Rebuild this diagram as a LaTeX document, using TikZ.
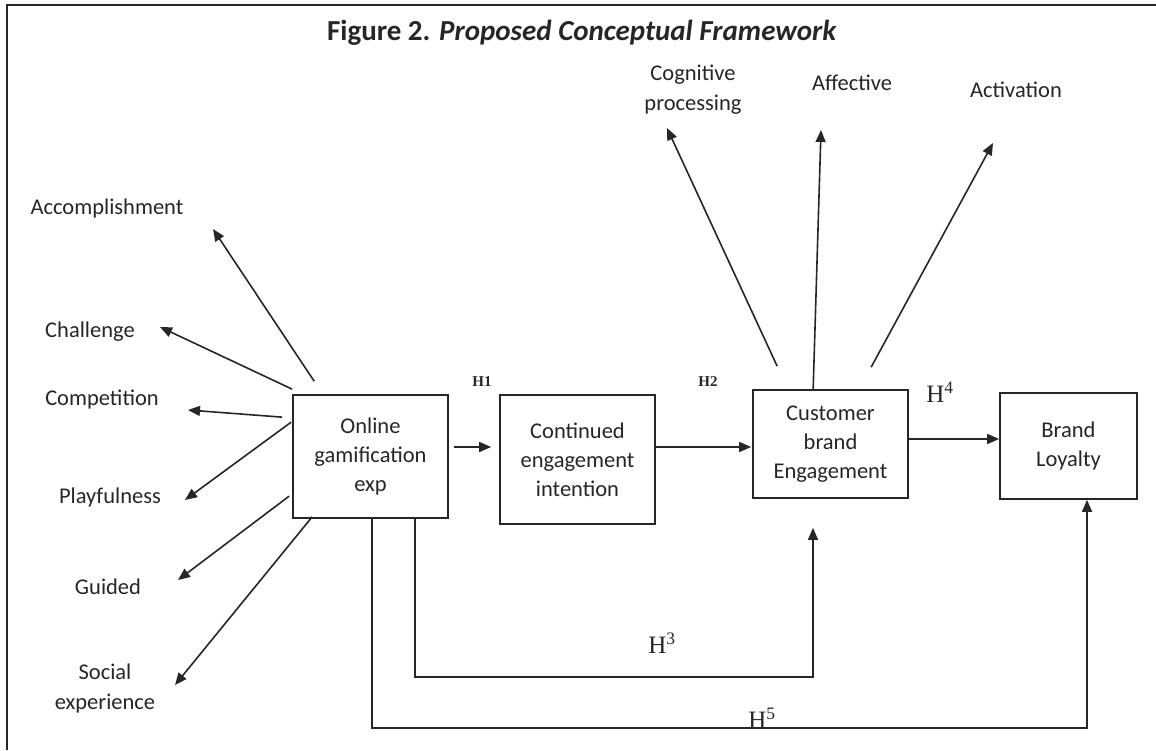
\documentclass[tikz,border=0pt]{standalone}
\usepackage{fontspec}
\setmainfont{Carlito}
\newfontfamily\hypfont{Liberation Serif}
\usetikzlibrary{arrows.meta}

\tikzset{
  box/.style={draw, line width=1.7pt, minimum width=155pt, align=center, font=\fontsize{22.5}{29}\selectfont},
  dim/.style={align=center, font=\fontsize{22.5}{30}\selectfont},
  hyp/.style={font=\hypfont\fontsize{25}{25}\selectfont},
  hypb/.style={font=\hypfont\bfseries\fontsize{15}{15}\selectfont},
  link/.style={-{Triangle[length=12pt,width=10pt]}, line width=1.6pt}
}

\begin{document}
\begin{tikzpicture}[x=1pt, y=-1pt, color=black!85]
        \useasboundingbox (0,0) rectangle (1156,750);
        % Rahmen
        \draw[line width=1.8pt] (7,750) -- (7,5) -- (1156,5);
        \node[font=\bfseries\fontsize{29}{29}\selectfont] (title) at (582,33) {Figure 2. \textit{Proposed Conceptual Framework}};

        % Konstrukte
        \node[box, minimum height=123pt] (og) at (370.5,456.5) {Online\\gamification\\exp};
        \node[box, minimum height=129pt] (ce) at (577.5,459.5) {Continued\\engagement\\intention};
        \node[box, minimum height=108pt] (cbe) at (830.5,444) {Customer\\brand\\Engagement};
        \node[box, minimum width=137pt, minimum height=106pt] (bl) at (1068.5,446) {Brand\\Loyalty};

        % Dimensionen der Gamification
        \node[dim] (acc) at (107,208) {Accomplishment};
        \node[dim] (chal) at (90,332) {Challenge};
        \node[dim] (comp) at (102,400) {Competition};
        \node[dim] (play) at (110,497) {Playfulness};
        \node[dim] (guid) at (108,587) {Guided};
        \node[dim] (soc) at (105,688) {Social\\experience};

        % Dimensionen des Engagements
        \node[dim] (cog) at (693,90) {Cognitive\\processing};
        \node[dim] (aff) at (852,83) {Affective};
        \node[dim] (act) at (1016,90) {Activation};

        % Pfeile zu den Gamification-Dimensionen
        \draw[link] ([xshift=22pt,yshift=13pt]og.north west) -- ([xshift=106pt,yshift=-21pt]acc.center);
        \draw[link] ([yshift=5pt]og.north west) -- ([xshift=70pt,yshift=5pt]chal.center);
        \draw[link] ([xshift=-10pt,yshift=-23pt]og.north west) -- ([xshift=86pt,yshift=-10pt]comp.center);
        \draw[link] ([xshift=-1pt,yshift=-28pt]og.north west) -- ([xshift=75pt,yshift=-3pt]play.center);
        \draw[link] ([xshift=-3pt,yshift=-102pt]og.north west) -- ([xshift=70pt,yshift=7pt]guid.center);
        \draw[link] ([xshift=20pt,yshift=2pt]og.south west) -- ([xshift=70pt,yshift=3pt]soc.center);

        % Pfeile zu den Engagement-Dimensionen
        \draw[link] ([xshift=25pt,yshift=23pt]cbe.north west) -- ([xshift=-26pt,yshift=-38pt]cog.center);
        \draw[link] ([xshift=61pt]cbe.north west) -- ([xshift=-31pt,yshift=-47pt]aff.center);
        \draw[link] ([xshift=119pt,yshift=22pt]cbe.north west) -- ([xshift=-23pt,yshift=-53pt]act.center);

        % Hypothesen
        \draw[link] ([xshift=5pt,yshift=9.5pt]og.east) -- ([xshift=-8pt,yshift=12.5pt]ce.west);
        \draw[link] ([yshift=12.5pt]ce.east) -- ([xshift=-1pt,yshift=-3pt]cbe.west);
        \draw[link] ([yshift=5pt]cbe.east) -- ([yshift=7pt]bl.west);
        \draw[link] ([xshift=44.5pt]og.south) -- ++(0,158) -| ([xshift=-17.5pt,yshift=-29pt]cbe.south);
        \draw[link] ([xshift=1.5pt]og.south) -- ++(0,209) -| ([xshift=18.5pt]bl.south);

        \node[hypb] (h1) at (482,382) {H1};
        \node[hypb] (h2) at (708,382) {H2};
        \node[hyp] (h3) at (662,643) {H\textsuperscript{3}};
        \node[hyp] (h4) at (940,392) {H\textsuperscript{4}};
        \node[hyp] (h5) at (762,718) {H\textsuperscript{5}};
\end{tikzpicture}
\end{document}
